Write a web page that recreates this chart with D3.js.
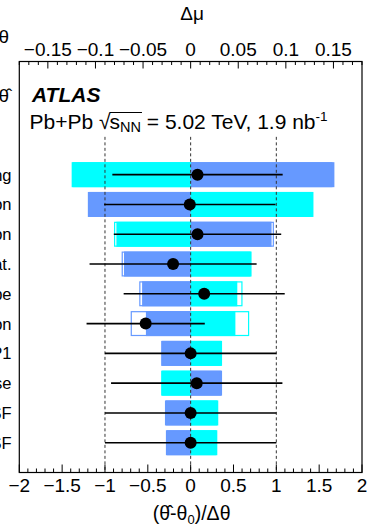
<!DOCTYPE html>
<html><head><meta charset="utf-8">
<script src="https://cdn.jsdelivr.net/npm/d3@7"></script>
<style>
html,body{margin:0;padding:0;background:#fff;overflow:hidden;}
svg{display:block;font-family:"Liberation Sans",Arial,Helvetica,sans-serif;}
</style></head>
<body><svg id="c" width="367" height="528"></svg>
<script>
// ---- data ----
const rowNames = ["b-tagging","Fake-lepton normalisation","Z+jets normalisation","MC stat.","Fake-lepton shape","W+jets normalisation","JES NP1","Jet energy response","Muon trigger SF","Electron ID SF"];
const pullVal  = [0.08, -0.01, 0.08, -0.205, 0.158, -0.525, 0.0, 0.071, 0.0, 0.0];
const pullErr  = [0.994, 1.0, 0.977, 0.975, 0.94, 0.69, 1.0, 1.0, 1.0, 1.0];
const postUp   = [0.151, -0.108, 0.085, -0.070, -0.051, -0.047, -0.031, 0.033, -0.027, -0.026];
const postDown = [-0.125, 0.129, -0.078, 0.064, 0.049, 0.047, 0.033, -0.031, 0.029, 0.028];
const preUp    = [0.149, -0.107, 0.0875, -0.0725, -0.054, -0.063, -0.030, 0.032, -0.026, -0.025];
const preDown  = [-0.124, 0.128, -0.0805, 0.063, 0.0545, 0.0615, 0.032, -0.030, 0.028, 0.027];
const pullTicks = [-2,-1.5,-1,-0.5,0,0.5,1,1.5,2];
const impTicks  = [-0.15,-0.1,-0.05,0,0.05,0.1,0.15];
const legendLines = ["Pre-fit impact on \u03bc: \u03b8 = \u03b8\u0302 \u00b1 \u0394\u03b8", "Post-fit impact on \u03bc: \u03b8 = \u03b8\u0302"];

// ---- layout ----
const L=19.3, R=362, T=61.5, B=472.5;
const blue="#6699ff", cyan="#00ffff";
const svg=d3.select("#c");
const xP=d3.scaleLinear().domain([-2,2]).range([L,R]);
const xI=d3.scaleLinear().domain([-0.18,0.18]).range([L,R]);
const y=d3.scaleLinear().domain([-3.8,10]).range([T,B]);
const barH=25;
const fs=19;

// bars
const g=svg.append("g");
rowNames.forEach((n,i)=>{
  const yc=y(i);
  const drawFill=(v,col)=>{
    g.append("rect").attr("x",Math.min(xI(0),xI(v))).attr("width",Math.abs(xI(v)-xI(0)))
     .attr("y",yc-barH/2).attr("height",barH).attr("fill",col);
  };
  const drawPre=(v,col)=>{
    g.append("rect").attr("x",Math.min(xI(0),xI(v))+0.6).attr("width",Math.abs(xI(v)-xI(0))-1.2)
     .attr("y",yc-barH/2+0.6).attr("height",barH-1.2).attr("fill","none").attr("stroke",col).attr("stroke-width",1.2);
  };
  drawFill(postUp[i],blue); drawFill(postDown[i],cyan);
  drawPre(preUp[i],blue); drawPre(preDown[i],cyan);
});

// dashed lines
[-1,0,1].forEach(v=>{
  svg.append("line").attr("x1",xP(v)).attr("x2",xP(v)).attr("y1",y(-1.27)).attr("y2",B)
   .attr("stroke","#333").attr("stroke-width",1).attr("stroke-dasharray","3,2.5");
});

// error bars and points
rowNames.forEach((n,i)=>{
  svg.append("line").attr("x1",xP(pullVal[i]-pullErr[i])).attr("x2",xP(pullVal[i]+pullErr[i]))
   .attr("y1",y(i)).attr("y2",y(i)).attr("stroke","#000").attr("stroke-width",1.6);
  svg.append("circle").attr("cx",xP(pullVal[i])).attr("cy",y(i)).attr("r",6).attr("fill","#000");
});

// frame
svg.append("rect").attr("x",L).attr("y",T).attr("width",R-L).attr("height",B-T)
  .attr("fill","none").attr("stroke","#000").attr("stroke-width",1.2);

// bottom axis ticks
const bMinor=d3.range(-20,21).map(k=>k/10);
bMinor.forEach(v=>{
  const major=Math.abs(v*2-Math.round(v*2))<1e-6;
  svg.append("line").attr("x1",xP(v)).attr("x2",xP(v)).attr("y1",B).attr("y2",B-(major?8:4))
   .attr("stroke","#000").attr("stroke-width",1);
});
const fmt=d3.format("");
pullTicks.forEach(v=>{
  svg.append("text").attr("x",xP(v)).attr("y",491.5).attr("text-anchor","middle")
   .attr("font-size",fs).text(fmt(v));
});
// top axis ticks
const tMinor=d3.range(-18,19).map(k=>k/100);
tMinor.forEach(v=>{
  const major=Math.abs(v*20-Math.round(v*20))<1e-6;
  svg.append("line").attr("x1",xI(v)).attr("x2",xI(v)).attr("y1",T).attr("y2",T+(major?7:3.5))
   .attr("stroke","#000").attr("stroke-width",1);
});
impTicks.forEach(v=>{
  svg.append("text").attr("x",xI(v)).attr("y",56).attr("text-anchor","middle")
   .attr("font-size",fs).text(fmt(v));
});

// axis titles
svg.append("text").attr("x",xI(0)+1.5).attr("y",20).attr("text-anchor","middle").attr("font-size",fs).text("\u0394\u03bc");
const bt=svg.append("text").attr("x",xP(0)+1).attr("y",520).attr("text-anchor","middle").attr("font-size",fs+0.5);
bt.append("tspan").text("(\u03b8\u0302-\u03b8");
bt.append("tspan").attr("font-size",13).attr("dy",4).text("0");
bt.append("tspan").attr("dy",-4).text(")/\u0394\u03b8");

// row labels (cut off at left)
rowNames.forEach((n,i)=>{
  svg.append("text").attr("x",11.5).attr("y",y(i)+6).attr("text-anchor","end").attr("font-size",16.5).text(n);
});
// legend (cut off at left)
svg.append("text").attr("x",9).attr("y",43).attr("text-anchor","end").attr("font-size",fs).text(legendLines[0]);
svg.append("text").attr("x",9).attr("y",101.5).attr("text-anchor","end").attr("font-size",fs).text(legendLines[1]);

// ATLAS label
svg.append("text").attr("x",32).attr("y",101.7).attr("font-size",21).attr("font-weight","bold").attr("font-style","italic").text("ATLAS");
const lt=svg.append("text").attr("x",29.5).attr("y",129).attr("font-size",21);
lt.append("tspan").text("Pb+Pb ");
const rad=lt.append("tspan").text("\u221a");
const sT=lt.append("tspan").attr("dx",-1).text("s");
const nnT=lt.append("tspan").attr("font-size",14.5).attr("dy",3).text("NN");
lt.append("tspan").attr("dy",-3).text(" = 5.02 TeV, 1.9 nb");
lt.append("tspan").attr("font-size",13.5).attr("dy",-8).text("-1");
// overline of the radical
const node=lt.node();
const txt=node.textContent;
const iRad=txt.indexOf("\u221a");
const iNN=txt.indexOf("NN")+1;
const eR=node.getExtentOfChar(iRad), eN=node.getExtentOfChar(iNN);
svg.append("line").attr("x1",eR.x+eR.width-1).attr("x2",eN.x+eN.width+1)
  .attr("y1",eR.y+2.5).attr("y2",eR.y+2.5).attr("stroke","#000").attr("stroke-width",1);
</script></body></html>
